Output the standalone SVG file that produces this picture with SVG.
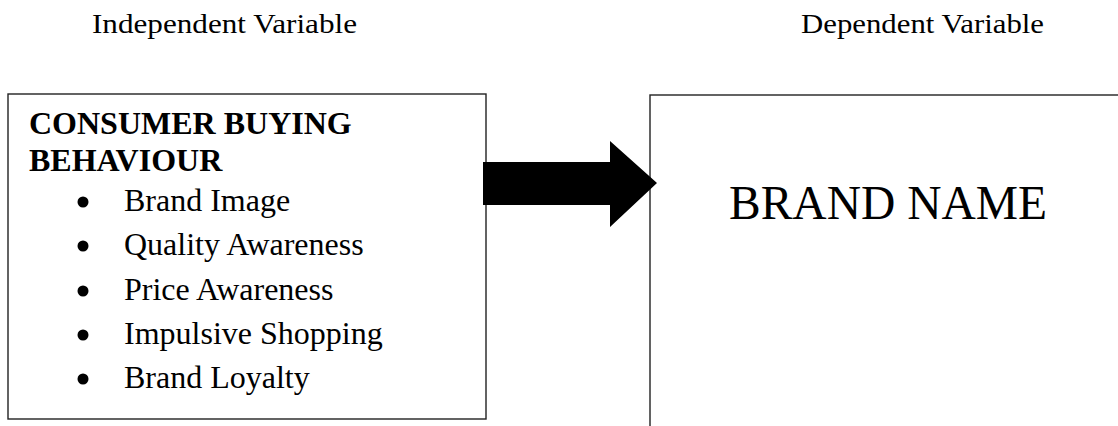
<svg xmlns="http://www.w3.org/2000/svg" width="1118" height="426" viewBox="0 0 1118 426">
<style>
.t{font-family:"Liberation Serif","Times New Roman",serif;fill:#000}
.lbl{font-size:28px}
.hd{font-size:32px;font-weight:bold}
.it{font-size:32px}
.big{font-size:47.5px}
.box{fill:#fff;stroke:#222;stroke-width:1.4}
</style>
<rect width="1118" height="426" fill="#fff"/>
<text class="t lbl" x="92" y="33" textLength="265" lengthAdjust="spacingAndGlyphs">Independent Variable</text>
<text class="t lbl" x="801" y="33" textLength="243" lengthAdjust="spacingAndGlyphs">Dependent Variable</text>
<g id="independent">
<rect class="box" x="8" y="94" width="478" height="325"/>
<text class="t hd" x="29" y="134">CONSUMER BUYING</text>
<text class="t hd" x="29" y="171">BEHAVIOUR</text>
<circle cx="83" cy="202" r="5.5"/>
<text class="t it" x="124" y="211">Brand Image</text>
<circle cx="83" cy="246" r="5.5"/>
<text class="t it" x="124" y="255">Quality Awareness</text>
<circle cx="83" cy="291" r="5.5"/>
<text class="t it" x="124" y="300">Price Awareness</text>
<circle cx="83" cy="335" r="5.5"/>
<text class="t it" x="124" y="344">Impulsive Shopping</text>
<circle cx="83" cy="379" r="5.5"/>
<text class="t it" x="124" y="388">Brand Loyalty</text>
</g>
<g id="dependent">
<rect class="box" x="650" y="95" width="480" height="340"/>
<text class="t big" x="729" y="219">BRAND NAME</text>
</g>
<g id="connectors">
<polygon points="483,162 610,162 610,141 657,183 610,227 610,205 483,205" fill="#000"/>
</g>
</svg>
